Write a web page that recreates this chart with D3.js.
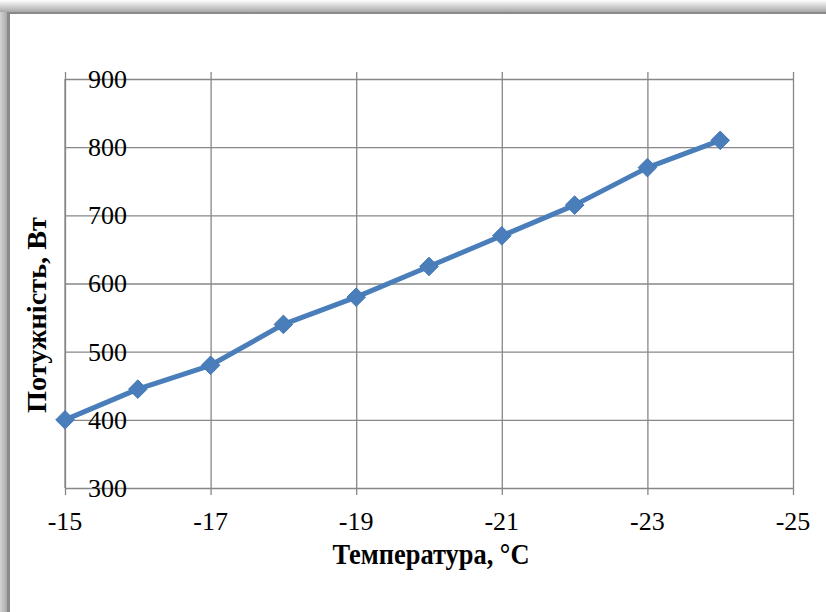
<!DOCTYPE html>
<html>
<head>
<meta charset="utf-8">
<script src="https://cdn.jsdelivr.net/npm/d3@7"></script>
<style>
  body { margin: 0; background: #fff; }
  svg text { font-family: "Liberation Serif", "Times New Roman", "DejaVu Serif", serif; fill: #000; }
</style>
</head>
<body>
<div id="chart"></div>
<script>
// temperature (°C) and power (W)
var temps = [-15, -16, -17, -18, -19, -20, -21, -22, -23, -24];
var power = [400, 445, 480, 540, 580, 625, 670, 715, 770, 810];
var xTicks = [-15, -17, -19, -21, -23, -25];
var yTicks = [300, 400, 500, 600, 700, 800, 900];

var W = 826, H = 612,
    margin = {left: 65, top: 79, right: 33, bottom: 124},
    width = W - margin.left - margin.right,
    height = H - margin.top - margin.bottom,
    gridColor = "#878787",
    lineColor = "#4a7ebb";

var data = temps.map(function (t, i) { return {t: t, p: power[i]}; });

var svg = d3.select("#chart").append("svg")
    .attr("width", W)
    .attr("height", H);

// frame with soft shadow on top and left
var defs = svg.append("defs");
var gTop = defs.append("linearGradient").attr("id", "shTop").attr("x1", 0).attr("y1", 0).attr("x2", 0).attr("y2", 1);
gTop.append("stop").attr("offset", "0%").attr("stop-color", "#ffffff");
gTop.append("stop").attr("offset", "100%").attr("stop-color", "#a8a8a8");
var gLeft = defs.append("linearGradient").attr("id", "shLeft").attr("x1", 0).attr("y1", 0).attr("x2", 1).attr("y2", 0);
gLeft.append("stop").attr("offset", "0%").attr("stop-color", "#d4d4d4");
gLeft.append("stop").attr("offset", "100%").attr("stop-color", "#a4a4a4");

svg.append("rect").attr("x", 0).attr("y", 0).attr("width", W).attr("height", 12).attr("fill", "url(#shTop)");
svg.append("rect").attr("x", 0).attr("y", 12).attr("width", 8).attr("height", H - 12).attr("fill", "url(#shLeft)");
svg.append("rect").attr("x", 7).attr("y", 12).attr("width", W - 7).attr("height", 2).attr("fill", "#8a8a8a");
svg.append("rect").attr("x", 7).attr("y", 12).attr("width", 3).attr("height", H - 12).attr("fill", "#8a8a8a");

var x = d3.scaleLinear().domain([-15, -25]).range([0, width]);
var y = d3.scaleLinear().domain([300, 900]).range([height, 0]);

var focus = svg.append("g")
    .attr("transform", "translate(" + margin.left + "," + margin.top + ")");

// gridlines
focus.append("g")
    .call(d3.axisLeft(y).tickValues(yTicks).tickSize(-width).tickFormat(""))
    .call(function (g) { g.select(".domain").remove(); })
    .selectAll("line").attr("stroke", gridColor).attr("stroke-width", 1.3);

var xAxis = focus.append("g")
    .attr("transform", "translate(0," + height + ")")
    .call(d3.axisBottom(x).tickValues(xTicks).tickSize(-height - 7).tickFormat(""));
xAxis.select(".domain").remove();
xAxis.selectAll("line").attr("stroke", gridColor).attr("stroke-width", 1.3).attr("y1", 7);

focus.append("line")
    .attr("x1", 0).attr("x2", 0).attr("y1", 0).attr("y2", height)
    .attr("stroke", gridColor).attr("stroke-width", 1.3);

// x tick labels
focus.selectAll(".xlab")
    .data(xTicks)
  .enter().append("text")
    .attr("class", "xlab")
    .attr("x", function (d) { return x(d); })
    .attr("y", height + 42)
    .attr("text-anchor", "middle")
    .attr("font-family", "Liberation Serif")
    .style("font-size", "26px")
    .text(function (d) { return d; });

// y tick labels sit just inside the plot
focus.selectAll(".ylab")
    .data(yTicks)
  .enter().append("text")
    .attr("class", "ylab")
    .attr("x", 23)
    .attr("y", function (d) { return y(d); })
    .attr("dy", "0.34em")
    .attr("font-family", "Liberation Serif")
    .style("font-size", "26px")
    .text(function (d) { return d; });

// series
var line = d3.line()
    .x(function (d) { return x(d.t); })
    .y(function (d) { return y(d.p); });

focus.append("path")
    .datum(data)
    .attr("d", line)
    .attr("fill", "none")
    .attr("stroke", lineColor)
    .attr("stroke-width", 5)
    .attr("stroke-linejoin", "round");

focus.selectAll(".pt")
    .data(data)
  .enter().append("path")
    .attr("class", "pt")
    .attr("d", d3.symbol().type(d3.symbolDiamond2).size(220))
    .attr("transform", function (d) { return "translate(" + x(d.t) + "," + y(d.p) + ")"; })
    .attr("fill", lineColor)
    .attr("stroke", "#4477b4")
    .attr("stroke-width", 1);

// axis titles (condensed like the source)
svg.append("text")
    .attr("x", 431)
    .attr("y", 564)
    .attr("text-anchor", "middle")
    .attr("font-family", "Liberation Serif")
    .attr("textLength", 197)
    .attr("lengthAdjust", "spacingAndGlyphs")
    .style("font-size", "30px")
    .style("font-weight", "bold")
    .text("Температура, °C");

svg.append("text")
    .attr("transform", "translate(46,315) rotate(-90)")
    .attr("text-anchor", "middle")
    .attr("font-family", "Liberation Serif")
    .attr("textLength", 196)
    .attr("lengthAdjust", "spacingAndGlyphs")
    .style("font-size", "27px")
    .style("font-weight", "bold")
    .text("Потужність, Вт");
</script>
</body>
</html>
